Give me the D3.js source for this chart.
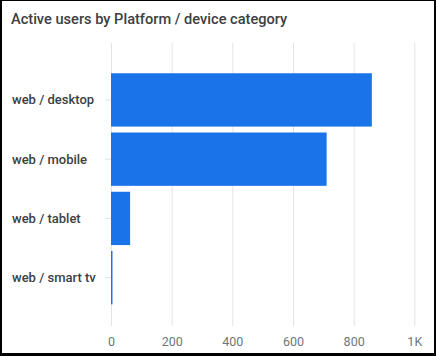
<!DOCTYPE html>
<html>
<head>
<meta charset="utf-8">
<script src="https://cdn.jsdelivr.net/npm/d3@7"></script>
<style>
  html, body { margin: 0; padding: 0; background: #fff; }
  svg { display: block; }
</style>
</head>
<body>
<svg id="chart" width="436" height="356"></svg>
<script>
const title = "Active users by Platform / device category";
const categories = ["web / desktop", "web / mobile", "web / tablet", "web / smart tv"];
const values = [860, 711, 63, 2];
const tickValues = [0, 200, 400, 600, 800, 1000];
const tickLabels = ["0", "200", "400", "600", "800", "1K"];

const W = 436, H = 356;
const svg = d3.select("#chart");

// frame
svg.append("rect").attr("x", 0).attr("y", 0).attr("width", W).attr("height", H).attr("fill", "#000");
svg.append("rect").attr("x", 2).attr("y", 1).attr("width", 432).attr("height", 352).attr("fill", "#fff");

svg.append("text")
  .attr("x", 11).attr("y", 23.5)
  .attr("font-family", "Roboto, 'Open Sans', sans-serif")
  .attr("font-size", 14.6).attr("font-weight", 500)
  .attr("fill", "#3c4043")
  .text(title);

const x = d3.scaleLinear().domain([0, 1000]).range([111, 414.3]);
const y = d3.scaleBand().domain(categories).range([70.3, 307.3]).paddingInner(0.1).paddingOuter(0.05);

// gridlines
const grid = svg.append("g")
  .attr("transform", "translate(0,326)")
  .call(d3.axisBottom(x).tickValues(tickValues).tickSize(-(326 - 43)).tickFormat((d, i) => tickLabels[i]));
grid.select(".domain").remove();
grid.selectAll(".tick line").attr("stroke", "#e3e3e3").attr("stroke-width", 1);
grid.selectAll(".tick text")
  .attr("y", 20).attr("dy", 0)
  .attr("font-family", "Roboto, sans-serif").attr("font-size", 12.5)
  .attr("fill", "#70757a");

// y axis ticks
const yAxis = svg.append("g")
  .attr("transform", "translate(111,0)")
  .call(d3.axisLeft(y).tickSize(6).tickPadding(0));
yAxis.select(".domain").remove();
yAxis.selectAll(".tick line").attr("stroke", "#e3e3e3");
yAxis.selectAll(".tick text")
  .attr("x", -99).attr("text-anchor", "start").attr("dy", "0.35em")
  .attr("font-family", "Roboto, sans-serif").attr("font-size", 13).attr("font-weight", 500)
  .attr("fill", "#3c4043");

// bars
svg.append("g").selectAll("rect")
  .data(categories)
  .join("rect")
  .attr("x", x(0))
  .attr("y", d => y(d))
  .attr("height", y.bandwidth())
  .attr("width", (d, i) => Math.max(1.5, x(values[i]) - x(0)))
  .attr("fill", "#1a73e8");
</script>
</body>
</html>
